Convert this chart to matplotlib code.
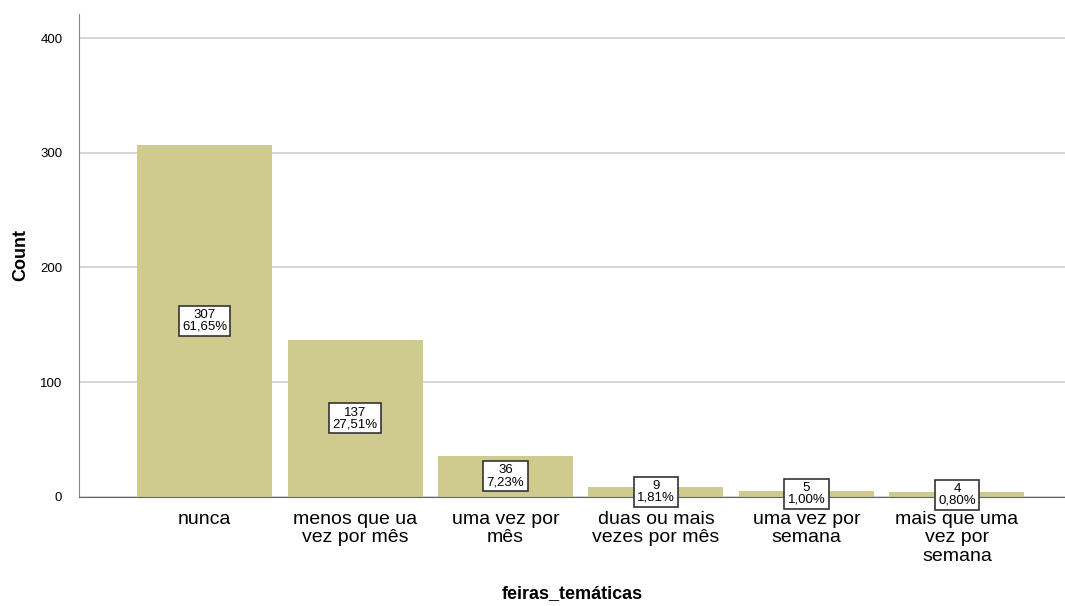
import matplotlib.pyplot as plt

plt.rcParams["font.family"] = ["Liberation Sans", "DejaVu Sans"]

categories = [
    "nunca",
    "menos que ua\nvez por mês",
    "uma vez por\nmês",
    "duas ou mais\nvezes por mês",
    "uma vez por\nsemana",
    "mais que uma\nvez por\nsemana",
]
counts = [307, 137, 36, 9, 5, 4]
percents = ["61,65%", "27,51%", "7,23%", "1,81%", "1,00%", "0,80%"]

bar_color = "#cfca8e"

fig = plt.figure(figsize=(10.65, 6.06), dpi=100)
ax = fig.add_axes([0.0742, 0.18, 0.9258, 0.797])

x = list(range(len(categories)))
ax.bar(x, counts, width=0.897, color=bar_color, zorder=2)

# labels sit at half the bar height, like the SPSS output
for xi, c, p in zip(x, counts, percents):
    ax.text(xi, c / 2, f"{c}\n{p}", ha="center", va="center", fontsize=9.5,
            linespacing=0.95, zorder=3,
            bbox=dict(boxstyle="square,pad=0.25", facecolor="white",
                      edgecolor="#333333", linewidth=1.2))

ax.set_xlim(-0.834, 5.718)
ax.set_ylim(0, 421)
ax.set_yticks([0, 100, 200, 300, 400])
ax.yaxis.grid(True, color="#cfcfcf", linewidth=1.2, zorder=0)
ax.set_axisbelow(True)

ax.set_xticks(x)
ax.set_xticklabels(categories, fontsize=14, linespacing=1.12)
ax.tick_params(axis="x", length=0, pad=10)
ax.tick_params(axis="y", length=0, pad=12, labelsize=9.5)

for side in ["top", "right"]:
    ax.spines[side].set_visible(False)
ax.spines["left"].set_color("#888888")
ax.spines["bottom"].set_color("#666666")

ax.set_xlabel("feiras_temáticas", fontsize=13, fontweight="bold", va="center")
ax.xaxis.set_label_coords(0.5, -0.201)
ax.set_ylabel("Count", fontsize=13, fontweight="bold")
ax.yaxis.set_label_coords(-0.05, 0.5)

fig.savefig("out.png", dpi=100)
